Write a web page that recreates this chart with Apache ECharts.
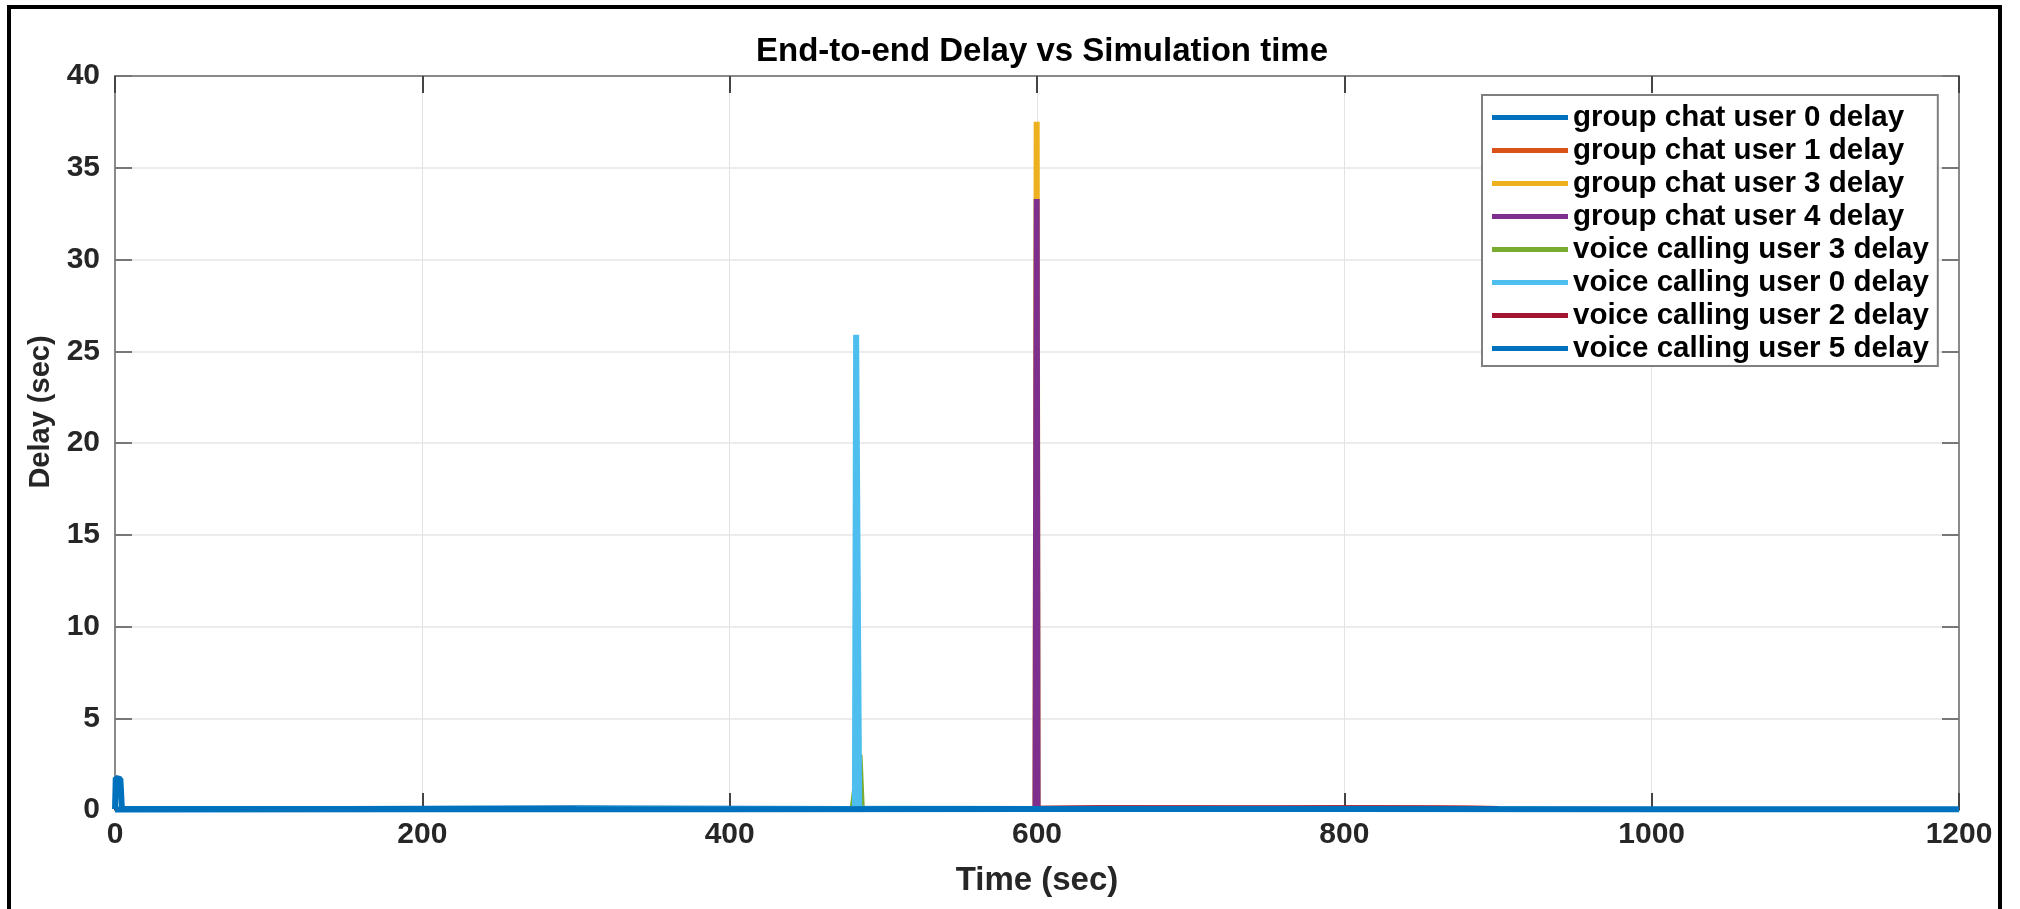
<!DOCTYPE html>
<html>
<head>
<meta charset="utf-8">
<script src="https://cdn.jsdelivr.net/npm/echarts@6/dist/echarts.min.js"></script>
<style>
html,body{margin:0;padding:0;background:#fff;}
#chart{width:2020px;height:909px;}
</style>
</head>
<body>
<div id="chart"></div>
<script>
// ---- data (time in sec, delay in sec) ----
const titleText = 'End-to-end Delay vs Simulation time';
const xAxisName = 'Time (sec)';
const yAxisName = 'Delay (sec)';
const seriesNames = [
  'group chat user 0 delay',
  'group chat user 1 delay',
  'group chat user 3 delay',
  'group chat user 4 delay',
  'voice calling user 3 delay',
  'voice calling user 0 delay',
  'voice calling user 2 delay',
  'voice calling user 5 delay'
];
const seriesColors = ['#0072BD','#D95319','#EDB120','#7E2F8E','#77AC30','#4DBEEE','#A2142F','#0072BD'];

const groupChatUser0 = [[0,0.05],[0.5,1.75],[3.5,1.68],[4.5,0.06],[60,0.05],[150,0.06],[300,0.09],[340,0.08],[480,0.05],[600,0.06]];
const groupChatUser1 = [[600.5,0.06],[650,0.08],[700,0.1],[760,0.07],[820,0.09],[880,0.08],[900,0.06]];
const groupChatUser3 = [[599,0.05],[599.8,37.5],[600.4,0.08],[700,0.06],[900,0.05]];
const groupChatUser4 = [[599,0.05],[599.8,33.3],[600.4,0.08],[800,0.07],[900,0.06]];
const voiceUser3 = [[480,0.05],[484.5,3.0],[486,0.05],[600,0.05]];
const voiceUser0 = [[300,0.06],[481.5,0.06],[482.3,25.9],[484.3,0.08],[600,0.05]];
const voiceUser2 = [[600,0.06],[640,0.09],[720,0.08],[790,0.1],[860,0.08],[900,0.06]];
const voiceUser5 = [[0,0.03],[200,0.04],[400,0.04],[600,0.05],[800,0.05],[1000,0.04],[1200,0.04]];
const seriesData = [groupChatUser0, groupChatUser1, groupChatUser3, groupChatUser4, voiceUser3, voiceUser0, voiceUser2, voiceUser5];

const xTicks = {min:0, max:1200, interval:200};
const yTicks = {min:0, max:40, interval:5};

const chart = echarts.init(document.getElementById('chart'), null, {renderer:'canvas'});
const FONT = '"Liberation Sans", Arial, sans-serif';
const axisLineStyle = {color:'#8a8a8a', width:2};
const tickStyle = {color:'#444', width:2};

const option = {
  animation:false,
  backgroundColor:'#fff',
  title:{
    text:titleText,
    left:1037, top:30, textAlign:'center',
    textStyle:{fontFamily:FONT, fontWeight:'bold', fontSize:33, color:'#000'}
  },
  grid:{left:115, right:61, top:76, bottom:99, containLabel:false},
  legend:{
    orient:'vertical', left:1482, top:95,
    data:seriesNames,
    icon:'rect', itemWidth:76, itemHeight:5, itemGap:0,
    padding:[6,9,1,10],
    backgroundColor:'#fff', borderColor:'#7f7f7f', borderWidth:2,
    textStyle:{fontFamily:FONT, fontWeight:'bold', fontSize:29.5, lineHeight:33, height:33, color:'#000'}
  },
  xAxis:[{
    type:'value', min:xTicks.min, max:xTicks.max, interval:xTicks.interval,
    position:'bottom',
    name:xAxisName, nameLocation:'middle', nameGap:54,
    nameTextStyle:{fontFamily:FONT, fontWeight:'bold', fontSize:33, color:'#262626'},
    axisLine:{show:true, onZero:false, lineStyle:axisLineStyle},
    axisTick:{show:true, inside:true, length:17, lineStyle:tickStyle},
    axisLabel:{fontFamily:FONT, fontWeight:'bold', fontSize:30, color:'#262626', margin:10,
      formatter:function(v){return String(v);}},
    splitLine:{show:true, lineStyle:{color:'#e3e3e3', width:1}}
  },{
    type:'value', min:xTicks.min, max:xTicks.max, interval:xTicks.interval,
    position:'top',
    axisLine:{show:true, onZero:false, lineStyle:axisLineStyle},
    axisTick:{show:true, inside:true, length:17, lineStyle:tickStyle},
    axisLabel:{show:false}, splitLine:{show:false}
  }],
  yAxis:[{
    type:'value', min:yTicks.min, max:yTicks.max, interval:yTicks.interval,
    position:'left',
    name:yAxisName, nameLocation:'middle', nameGap:60,
    nameTextStyle:{fontFamily:FONT, fontWeight:'bold', fontSize:29, color:'#262626', padding:[0,0,0,62]},
    axisLine:{show:true, onZero:false, lineStyle:axisLineStyle},
    axisTick:{show:true, inside:true, length:17, lineStyle:{color:'#777', width:2}},
    axisLabel:{fontFamily:FONT, fontWeight:'bold', fontSize:30, color:'#262626', margin:15},
    splitLine:{show:true, lineStyle:{color:'#ececec', width:2}}
  },{
    type:'value', min:yTicks.min, max:yTicks.max, interval:yTicks.interval,
    position:'right',
    axisLine:{show:true, onZero:false, lineStyle:axisLineStyle},
    axisTick:{show:true, inside:true, length:17, lineStyle:{color:'#777', width:2}},
    axisLabel:{show:false}, splitLine:{show:false}
  }],
  graphic:[{
    type:'rect', silent:true, z:-10,
    shape:{x:9, y:7, width:1991, height:930},
    style:{fill:'none', stroke:'#000', lineWidth:4}
  }],
  series: seriesNames.map((name, i) => ({
    name:name, type:'line', xAxisIndex:0, yAxisIndex:0,
    data:seriesData[i],
    color:seriesColors[i],
    showSymbol:false, symbol:'none',
    lineStyle:{width:6, color:seriesColors[i], join:'bevel'},
    z:2+i
  }))
};
chart.setOption(option);
</script>
</body>
</html>
